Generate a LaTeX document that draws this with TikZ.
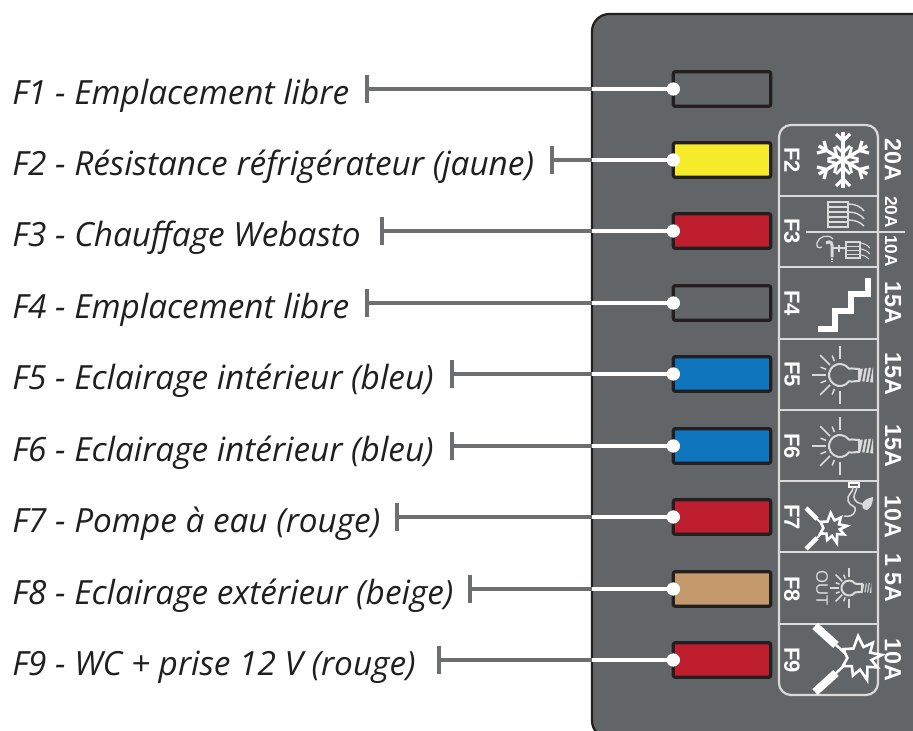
\documentclass[tikz,border=0pt]{standalone}
\usepackage{fontspec}
\setmainfont{Open Sans}
\newfontfamily\labelfont{Liberation Sans}
\definecolor{panelgray}{HTML}{626567}
\definecolor{leadgray}{HTML}{6D6E70}
\definecolor{fuseyellow}{HTML}{F6EB2A}
\definecolor{fusered}{HTML}{BE1E2D}
\definecolor{fuseblue}{HTML}{0F75BC}
\definecolor{fusebeige}{HTML}{C49A6C}
\definecolor{edgeblack}{HTML}{231F20}
\definecolor{icongray}{HTML}{DADADA}
\tikzset{
  x=0.75pt,y=-0.75pt,
  px/.style={line width=#1*0.75pt},
  fusebox/.style={draw=edgeblack,line width=2.4pt,rounded corners=1.5pt,minimum width=73pt,minimum height=26pt,inner sep=0pt,outer sep=0pt},
  fuselabel/.style={anchor=west,inner sep=0pt,font=\fontsize{25pt}{27pt}\itshape,text=black!88},
  leadgrayline/.style={draw=leadgray,px=4},
  leadwhiteline/.style={draw=white,px=4},
  tickline/.style={draw=leadgray,px=4.5},
  dotmark/.style={circle,fill=white,minimum size=10pt,inner sep=0pt},
  fuseid/.style={rotate=-90,inner sep=0pt,text=white,font=\labelfont\bfseries\fontsize{16.5pt}{16.5pt}\selectfont},
  ampbig/.style={rotate=-90,inner sep=0pt,text=white,font=\labelfont\bfseries\fontsize{17.5pt}{17.5pt}\selectfont},
  ampsmall/.style={rotate=-90,inner sep=0pt,text=white,font=\labelfont\bfseries\fontsize{13pt}{13pt}\selectfont},
  rule/.style={draw=icongray,px=2.2},
  iconw/.style={draw=white,px=#1,line cap=butt,line join=miter},
  iconw/.default=2,
  icong/.style={draw=icongray,px=#1},
  icong/.default=1.5,
}
\newcommand{\bulbicon}[3]{%
 \begin{scope}[shift={(#1,#2)},scale=#3]
  \draw[icong=2] (35:11) arc (35:325:11) .. controls (13,-7) and (15,-6) .. (19,-6) -- (19,6) .. controls (15,6) and (13,7) .. (35:11) -- cycle;
  \fill[icongray] (19,-6) -- (33,-7.5) -- (33,7.5) -- (19,6) -- cycle;
  \foreach \q in {22,26,30}{\draw[draw=panelgray,px=1.5] (\q-1,8) -- (\q+2,-8);}
  \foreach \a in {90,270}{\draw[icong=1.5] (\a:16) -- (\a:29);}
  \foreach \a in {180,135,225}{\draw[icong=1.5] (\a:14) -- (\a:28);}
  \foreach \a in {112,248,158,202}{\draw[icong=1.5] (\a:15) -- (\a:21);}
 \end{scope}}
\newcommand{\sparkicon}[3]{%
 \begin{scope}[shift={(#1,#2)},scale=#3]
  \draw[draw=white,px=2.6,line join=miter,fill=panelgray]
   (180:12) -- (155:18) -- (135:11) -- (112:18) -- (90:11) -- (72:22) -- (50:11) -- (28:19) -- (10:11) -- (-8:21) -- (-28:11) -- (-50:19) -- (-72:11) -- (-95:21) -- (-125:11) -- (-152:18) -- cycle;
 \end{scope}}
\begin{document}
\begin{tikzpicture}
\useasboundingbox (0,0) rectangle (913,731);
\clip (0,0) rectangle (913,731);
\fill[white] (0,0) rectangle (913,731);
% panel
\draw[draw=edgeblack,px=2.2,fill=panelgray,rounded corners=13pt] (592,14) rectangle (950,738);
\coordinate (edge) at (592,0);
% fuses
\node[fusebox,fill=panelgray] (f1) at (722,89) {};
\node[fusebox,fill=fuseyellow] (f2) at (722,160) {};
\node[fusebox,fill=fusered] (f3) at (722,231) {};
\node[fusebox,fill=panelgray] (f4) at (722,303) {};
\node[fusebox,fill=fuseblue] (f5) at (722,374) {};
\node[fusebox,fill=fuseblue] (f6) at (722,446) {};
\node[fusebox,fill=fusered] (f7) at (722,517) {};
\node[fusebox,fill=fusebeige] (f8) at (722,589) {};
\node[fusebox,fill=fusered] (f9) at (722,660) {};
% labels
\node[fuselabel] (l1) at (12,96) {F1 - Emplacement libre};
\node[fuselabel] (l2) at (12,167) {F2 - Résistance réfrigérateur (jaune)};
\node[fuselabel] (l3) at (12,238) {F3 - Chauffage Webasto};
\node[fuselabel] (l4) at (12,310) {F4 - Emplacement libre};
\node[fuselabel] (l5) at (12,381) {F5 - Eclairage intérieur (bleu)};
\node[fuselabel] (l6) at (12,453) {F6 - Eclairage intérieur (bleu)};
\node[fuselabel] (l7) at (12,524) {F7 - Pompe à eau (rouge)};
\node[fuselabel] (l8) at (12,596) {F8 - Eclairage extérieur (beige)};
\node[fuselabel] (l9) at (12,667) {F9 - WC + prise 12 V (rouge)};
% leaders
\foreach \n/\x in {1/367,2/552,3/382,4/367,5/452,6/452,7/397,8/470,9/439}{
  \coordinate (t\n) at (\x,0 |- f\n.west);
  \coordinate (e\n) at (edge |- f\n.west);
  \draw[leadgrayline] (t\n) -- (e\n);
  \draw[leadwhiteline] (e\n) -- (f\n.west);
  \draw[tickline] ([yshift=10.5pt]t\n) -- ([yshift=-10.5pt]t\n);
  \node[dotmark] (d\n) at (f\n.west) {};
}
% label plate
\draw[rule,rounded corners=9pt] (779,125) rectangle (878,695);
\foreach \y in {196,267,339,410,481,552,624}{\draw[rule] (779,\y) -- (878,\y);}
\draw[rule] (806,232) -- (905,232);
\node[fuseid] (n2) at (792,160) {F2};
\node[fuseid] (n3) at (792,231) {F3};
\node[fuseid] (n4) at (792,303) {F4};
\node[fuseid] (n5) at (792,374) {F5};
\node[fuseid] (n6) at (792,446) {F6};
\node[fuseid] (n7) at (792,517) {F7};
\node[fuseid] (n8) at (792,589) {F8};
\node[fuseid] (n9) at (792,660) {F9};
\node[ampbig] (a2) at (893,160) {20A};
\node[ampsmall] (a3a) at (891,212) {20A};
\node[ampsmall] (a3b) at (891,251) {10A};
\node[ampbig] (a4) at (893,303) {15A};
\node[ampbig] (a5) at (893,374) {15A};
\node[ampbig] (a6) at (893,446) {15A};
\node[ampbig] (a7) at (893,517) {10A};
\node[ampbig] (a8) at (893,578) {1 5A};
\node[ampbig] (a9) at (893,660) {10A};
% snowflake
\begin{scope}[shift={(843,160)}]
 \foreach \a in {90,30,-30,-90,-150,150}{
  \begin{scope}[rotate=\a]
   \draw[iconw=3.4] (0,0) -- (28,0);
   \draw[iconw=3.2] (26,-7) -- (19,0) -- (26,7);
   \draw[iconw=2.8] (14,-7) -- (7,0) -- (14,7);
  \end{scope}}
\end{scope}
% F3 icons
\draw[icong=2] (828,202) rectangle (848,227);
\foreach \y in {207,212,217,222}{\draw[icong=1.4] (828,\y) -- (848,\y);}
\draw[icong=1.4] (848,204) .. controls (855,204) and (860,206) .. (864,211);
\draw[icong=1.4] (848,212) .. controls (855,212) and (860,214) .. (864,219);
\draw[icong=1.4] (848,220) .. controls (855,220) and (860,222) .. (864,226);
\draw[icong=1.3] (846,242) rectangle (860,258);
\foreach \y in {246,250,254}{\draw[icong=1] (846,\y) -- (860,\y);}
\draw[icong=1] (860,243) .. controls (864,243) and (867,245) .. (870,248);
\draw[icong=1] (860,249) .. controls (864,249) and (867,251) .. (870,254);
\draw[icong=1] (860,255) .. controls (864,255) and (867,257) .. (869,259);
\draw[icong=1.2] (833,239) .. controls (828,233) and (818,237) .. (817,243) .. controls (816,247) and (819,249) .. (822,247);
\draw[icong=3] (826,243) .. controls (831,240) and (833,243) .. (832,251) -- (832,257);
\draw[icong=1.2] (833,248) -- (845,248) (839,245) -- (839,252);
\draw[icong=1.2,dashed,dash pattern=on 1.5pt off 1pt] (832,258) -- (832,262);
% F4 stairs
\draw[draw=white,px=6,line join=miter] (818,328.5) -- (835,328.5) -- (835,311) -- (851,311) -- (851,294) -- (868,294) -- (868,278);
% F5, F6, F8 bulbs
\bulbicon{840}{375}{1}
\bulbicon{840}{446}{1}
\bulbicon{849}{588}{0.68}
\node[rotate=-90,inner sep=0pt,text=icongray,font=\labelfont\fontsize{12.5pt}{12.5pt}\selectfont] (outw) at (822,588) {OUT};
% F7
\draw[iconw=4.5] (806,508) -- (817,519);
\draw[iconw=1.8] (817,519) -- (825,527);
\draw[iconw=4.5] (806,549) -- (817,538);
\draw[iconw=1.8] (817,538) -- (825,530);
\sparkicon{832}{528}{0.72}
\draw[draw=white,px=1.6] (849,483) rectangle (859,487);
\draw[icong=1.5] (853,487) .. controls (854,492) and (846,495) .. (848,501) .. controls (850,507) and (857,505) .. (855,511) .. controls (854,516) and (848,517) .. (844,516);
\draw[icong=1.5] (857,487) .. controls (856,493) and (852,496) .. (855,500) .. controls (858,504) and (861,503) .. (862,504);
\fill[icongray] (862,504) .. controls (864,500) and (868,498) .. (873,497) .. controls (873,503) and (871,508) .. (867,510) .. controls (863,510) and (862,507) .. (862,504) -- cycle;
% F9
\draw[iconw=8] (815,626) -- (836,645);
\draw[iconw=2.5] (836,645) -- (848,656);
\draw[iconw=8] (815,692) -- (836,673);
\draw[iconw=2.5] (836,673) -- (848,662);
\sparkicon{860}{658}{1.05}
\end{tikzpicture}
\end{document}
